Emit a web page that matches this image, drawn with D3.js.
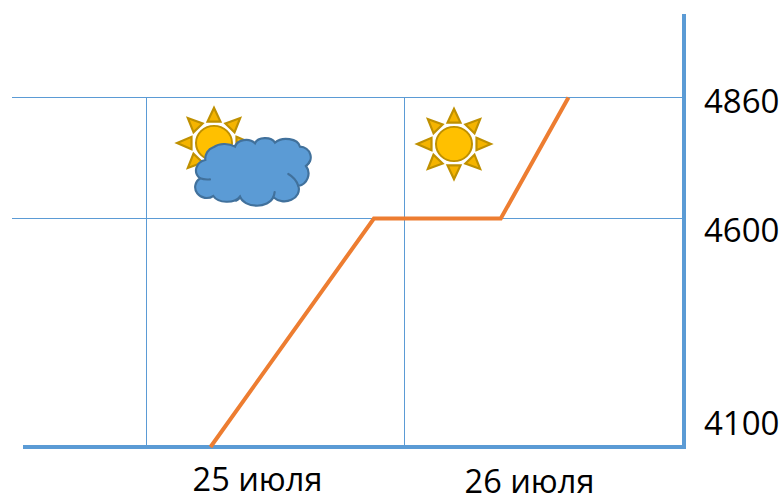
<!DOCTYPE html>
<html>
<head>
<meta charset="utf-8">
<script src="https://cdn.jsdelivr.net/npm/d3@7"></script>
<style>
  html, body { margin: 0; padding: 0; background: #fff; overflow: hidden; }
  text { font-family: "Open Sans", sans-serif; fill: #000; }
</style>
</head>
<body>
<div id="chart-area"></div>
<script>
// hours counted from 00:00 on 25 July
var lineHours = [6, 21.2, 33, 39.3];
var lineValues = [4100, 4600, 4600, 4860];
var levels = [4100, 4600, 4860];
var dayStarts = [0, 24];
var dayNoons = [12, 36];
var dayLabels = ["25 июля", "26 июля"];

var width = 784;
var height = 499;
var blue = "#5B9BD5";

var svg = d3.select("#chart-area")
  .append("svg")
  .attr("width", width)
  .attr("height", height);

var x = d3.scaleLinear().domain([0, 24]).range([146, 404]);
// the axis in the picture is not to scale, so each level has its own stop
var y = d3.scaleLinear().domain(levels).range([447, 218.5, 97.5]);

// grid
svg.selectAll(".h-grid")
  .data(levels.slice(1))
  .enter().append("line")
  .attr("class", "h-grid")
  .attr("x1", 12).attr("x2", 684)
  .attr("y1", d => y(d)).attr("y2", d => y(d))
  .attr("stroke", blue).attr("stroke-width", 1);

svg.selectAll(".v-grid")
  .data(dayStarts)
  .enter().append("line")
  .attr("class", "v-grid")
  .attr("x1", d => x(d) + 0.5).attr("x2", d => x(d) + 0.5)
  .attr("y1", y(4860)).attr("y2", y(4100))
  .attr("stroke", blue).attr("stroke-width", 1);

// axes
var rightAxis = d3.axisRight(y).tickValues(levels).tickSize(0).tickPadding(20).tickFormat(d3.format("d"));
var bottomAxis = d3.axisBottom(x).tickValues(dayNoons).tickSize(0).tickFormat((d, i) => dayLabels[i]);

var labelShiftY = { 4100: -24, 4600: 11, 4860: 3 };

var gy = svg.append("g").attr("transform", "translate(684,0)").call(rightAxis);
gy.select(".domain").remove();
gy.selectAll("text")
  .attr("font-size", "33px")
  .attr("x", 20)
  .attr("dy", "0.35em")
  .attr("transform", d => "translate(0," + labelShiftY[d] + ")");

var labelShiftX = [-18, -4];
var labelBaseline = [490.5, 493];

var gx = svg.append("g").call(bottomAxis);
gx.select(".domain").remove();
gx.selectAll("text")
  .attr("font-size", "32.5px")
  .attr("y", 0).attr("dy", 0)
  .attr("transform", (d, i) => "translate(" + labelShiftX[i] + "," + labelBaseline[i] + ")");

svg.append("line")
  .attr("x1", 23).attr("x2", 686).attr("y1", 447).attr("y2", 447)
  .attr("stroke", blue).attr("stroke-width", 4);
svg.append("line")
  .attr("x1", 684).attr("x2", 684).attr("y1", 14).attr("y2", 449)
  .attr("stroke", blue).attr("stroke-width", 4);

// series
var line = d3.line()
  .x(d => x(d[0]))
  .y(d => y(d[1]));

svg.append("path")
  .datum(d3.zip(lineHours, lineValues))
  .attr("d", line)
  .attr("fill", "none")
  .attr("stroke", "#ED7D31")
  .attr("stroke-width", 4);

// weather icons
function drawSun(cx, cy) {
  var sun = svg.append("g").attr("transform", "translate(" + cx + "," + cy + ") scale(1,0.95)");
  d3.range(8).forEach(i => {
    sun.append("path")
      .attr("d", "M22.5,-6.5L37,0L22.5,6.5Z")
      .attr("transform", "rotate(" + (i * 45) + ")")
      .attr("fill", "#F5B400")
      .attr("stroke", "#BF9000")
      .attr("stroke-width", 2.2);
  });
  sun.append("circle")
    .attr("r", 18)
    .attr("fill", "#FFC000")
    .attr("stroke", "#BF9000")
    .attr("stroke-width", 2);
}

drawSun(214, 143);
drawSun(454, 144);

var cloud = svg.append("g")
  .attr("transform", "translate(160,90) scale(0.3333)")
  .attr("stroke", "#41719C")
  .attr("stroke-width", 6.5)
  .attr("stroke-linecap", "round");

cloud.append("path")
  .attr("d", "M120,265 A36,32 0 0 1 136,210 A34,36 0 0 1 160,172 A48,34 0 0 1 225,170 A34,26 0 0 1 285,160 A32,22 0 0 1 345,158 A42,28 0 0 1 420,170 A34,32 0 0 1 438,228 A38,38 0 0 1 415,288 A44,36 0 0 1 340,322 A52,36 0 0 1 240,320 A44,28 0 0 1 160,318 A34,32 0 0 1 120,265 Z")
  .attr("fill", blue);

cloud.append("path")
  .attr("d", "M120,265 Q135,270 150,268 M385,252 Q408,265 415,288 M438,228 Q446,222 450,212 M340,322 Q343,315 344,306 M240,320 Q238,328 228,332")
  .attr("fill", "none");
</script>
</body>
</html>
